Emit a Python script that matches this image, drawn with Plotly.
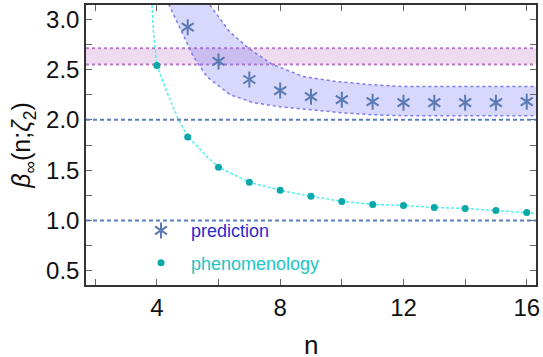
import plotly.graph_objects as go

# ---------------- data ----------------
n_pred = [5, 6, 7, 8, 9, 10, 11, 12, 13, 14, 15, 16]
beta_pred = [2.92, 2.58, 2.40, 2.29, 2.23, 2.20, 2.18, 2.17, 2.17, 2.17, 2.17, 2.18]

n_phen = [4, 5, 6, 7, 8, 9, 10, 11, 12, 13, 14, 15, 16]
beta_phen = [2.54, 1.83, 1.53, 1.38, 1.30, 1.24, 1.19, 1.16, 1.15, 1.13, 1.12, 1.10, 1.08]

# fitted phenomenology curve
n_fit = [3.84, 3.89, 4.0, 4.32, 4.70, 5.0, 5.4, 5.67, 6, 7, 8, 9, 10, 11, 12, 13, 14, 15, 16, 16.3]
beta_fit = [3.14, 2.87, 2.54, 2.28, 2.0, 1.83, 1.71, 1.62, 1.53, 1.38, 1.30, 1.24, 1.19, 1.16, 1.15, 1.13, 1.12, 1.10, 1.08, 1.07]

# prediction uncertainty band
n_band_lo = [4.38, 4.81, 5.18, 5.62, 6.37, 7.13, 8.0, 9.0, 10.0, 11.0, 12.0, 14.0, 16.3]
beta_band_lo = [3.15, 2.87, 2.63, 2.43, 2.25, 2.17, 2.13, 2.10, 2.07, 2.05, 2.04, 2.04, 2.04]
n_band_hi = [5.72, 6.37, 7.02, 7.75, 8.74, 9.83, 10.9, 11.98, 14.0, 16.3]
beta_band_hi = [3.14, 2.87, 2.70, 2.55, 2.43, 2.38, 2.35, 2.33, 2.33, 2.33]

# horizontal reference band and lines
pink_band = [2.55, 2.71]
ref_levels = [1.0, 2.0]

x_ticks = [4, 8, 12, 16]
y_ticks = [0.5, 1.0, 1.5, 2.0, 2.5, 3.0]

FONT = "Liberation Sans, Arial, sans-serif"
STAR = "#5a7ab4"

fig = go.Figure()

# pink band
fig.add_shape(type="rect", xref="paper", x0=0, x1=1, yref="y",
              y0=pink_band[0], y1=pink_band[1],
              fillcolor="rgba(190,110,190,0.25)", line_width=0, layer="below")
for yv in pink_band:
    fig.add_shape(type="line", xref="paper", x0=0, x1=1, yref="y", y0=yv, y1=yv,
                  line=dict(color="#b87ac8", width=2, dash="dot"), layer="below")

# dashed reference lines
for yv in ref_levels:
    fig.add_shape(type="line", xref="paper", x0=0, x1=1, yref="y", y0=yv, y1=yv,
                  line=dict(color="#5b7dbd", width=2, dash="4px,3px"), layer="above")

# blue band fill
poly_x = n_band_hi + n_band_lo[::-1]
poly_y = beta_band_hi + beta_band_lo[::-1]
fig.add_trace(go.Scatter(x=poly_x, y=poly_y, mode="lines", fill="toself",
                         fillcolor="rgba(110,110,245,0.27)", line=dict(width=0),
                         showlegend=False, hoverinfo="skip"))
fig.add_trace(go.Scatter(x=n_band_lo, y=beta_band_lo, mode="lines",
                         line=dict(color="#7b7bf0", width=1.5, dash="dot"),
                         showlegend=False, hoverinfo="skip"))
fig.add_trace(go.Scatter(x=n_band_hi, y=beta_band_hi, mode="lines",
                         line=dict(color="#7b7bf0", width=1.5, dash="dot"),
                         showlegend=False, hoverinfo="skip"))

# fit curve
fig.add_trace(go.Scatter(x=n_fit, y=beta_fit, mode="lines",
                         line=dict(color="#4ff0f0", width=1.5, dash="3px,2px"),
                         showlegend=False, hoverinfo="skip"))

# prediction stars (two overlaid Y symbols form a six-arm asterisk)
fig.add_trace(go.Scatter(x=n_pred, y=beta_pred, mode="markers",
                         name="<span style='color:#2a2acc'>prediction</span>",
                         legendgroup="a", legend="legend",
                         marker=dict(symbol="y-up-open", size=10, color=STAR,
                                     line=dict(color=STAR, width=2))))
fig.add_trace(go.Scatter(x=n_pred, y=beta_pred, mode="markers",
                         name="<span style='color:rgba(0,0,0,0)'>prediction</span>",
                         legend="legend2",
                         marker=dict(symbol="y-down-open", size=10, color=STAR,
                                     line=dict(color=STAR, width=2))))

# phenomenology points
fig.add_trace(go.Scatter(x=n_phen, y=beta_phen, mode="markers",
                         name="<span style='color:#22c4c4'>phenomenology</span>",
                         legendgroup="b", legend="legend",
                         marker=dict(symbol="circle", size=7, color="#0aa8a8")))

legend_common = dict(x=0.10, y=0.26, xanchor="left", yanchor="top",
                     bgcolor="rgba(0,0,0,0)", borderwidth=0,
                     font=dict(family=FONT, size=18),
                     itemwidth=50, traceorder="grouped", tracegroupgap=6)

fig.update_layout(
    width=543, height=357,
    margin=dict(l=86, r=7, t=5, b=72),
    paper_bgcolor="white", plot_bgcolor="white",
    font=dict(family=FONT, color="#111"),
    legend=legend_common,
    legend2=legend_common,
    showlegend=True,
    annotations=[dict(text="n", xref="paper", yref="paper", x=0.5, y=-0.215,
                      xanchor="center", yanchor="middle", showarrow=False,
                      font=dict(family=FONT, size=26, color="#111"))],
)

axis_common = dict(showline=True, linecolor="#333", linewidth=1.5, mirror="ticks",
                   ticks="inside", ticklen=6, tickcolor="#666", tickwidth=1.2,
                   showgrid=False, zeroline=False, automargin=False,
                   tickfont=dict(family=FONT, size=24, color="#111"))

fig.update_xaxes(range=[1.7, 16.3], tickvals=x_ticks, ticktext=[str(v) for v in x_ticks],
                 minor=dict(tickvals=[2, 6, 10, 14], ticks="inside", ticklen=6,
                            tickcolor="#666", tickwidth=1.2),
                 **axis_common)
fig.update_yaxes(range=[0.36, 3.14], tickvals=y_ticks, ticktext=[f"{v:.1f}" for v in y_ticks],
                 minor=dict(dtick=0.25, tick0=0.25, ticks="inside", ticklen=6,
                            tickcolor="#666", tickwidth=1.2),
                 title=dict(text="<i>β</i><sub>∞</sub>(n;<i>ζ</i><sub>2</sub>)",
                            font=dict(family=FONT, size=25), standoff=8),
                 **axis_common)

fig.write_html("out.html", config={"displayModeBar": False},
               post_script="document.body.style.margin='0';")
